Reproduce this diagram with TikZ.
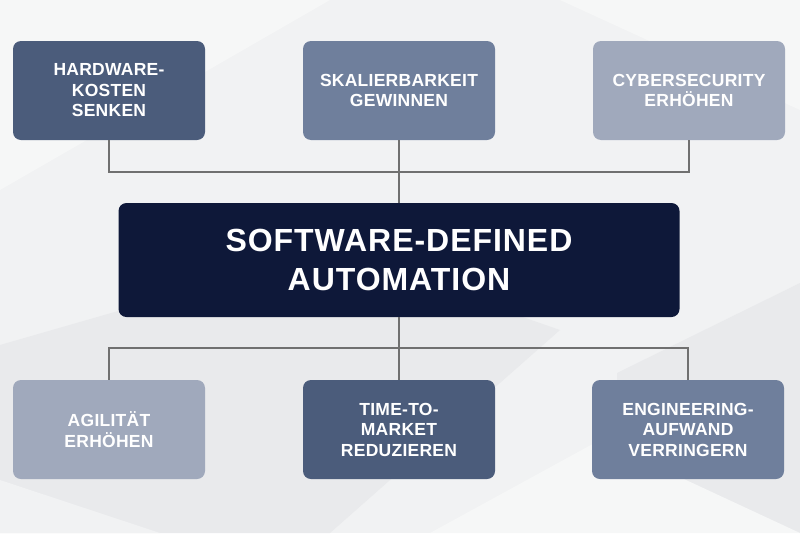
\documentclass[tikz,border=0pt]{standalone}
\usepackage{fontspec}
\setmainfont{Liberation Sans}
\newfontfamily\boxfont[LetterSpace=1.5]{Liberation Sans}
\newfontfamily\titlefont[LetterSpace=3]{Liberation Sans}
\definecolor{bgbase}{HTML}{F1F2F3}
\definecolor{bglight}{HTML}{F6F7F7}
\definecolor{bgdark}{HTML}{E9EAEC}
\definecolor{cdark}{HTML}{4B5C7B}
\definecolor{cmid}{HTML}{6F7F9C}
\definecolor{clight}{HTML}{A0A9BC}
\definecolor{cnavy}{HTML}{0E1839}
\definecolor{cline}{HTML}{707070}
\begin{document}
\begin{tikzpicture}[x=1pt,y=-1pt,
  goalbox/.style={rectangle, rounded corners=8pt, minimum width=192pt, minimum height=99pt,
    inner sep=0pt, text=white, align=center,
    font=\boxfont\bfseries\fontsize{17.5pt}{20.5pt}\selectfont},
  centerbox/.style={rectangle, rounded corners=8pt, fill=cnavy, minimum width=561pt, minimum height=114pt,
    inner sep=0pt, text=white, align=center,
    font=\titlefont\bfseries\fontsize{32pt}{39pt}\selectfont},
  link/.style={draw=cline, line width=1.6pt}]
% background
\fill[bgbase] (0,0) rectangle (800,533);
\useasboundingbox (0,0) rectangle (800,533);
\fill[bglight] (0,0) -- (330,0) -- (0,190) -- cycle;
\fill[bglight] (560,0) -- (800,0) -- (800,110) -- cycle;
\fill[bgdark] (0,345) -- (330,250) -- (560,330) -- (330,533) -- (0,533) -- cycle;
\fill[bgbase] (0,480) -- (160,533) -- (0,533) -- cycle;
\fill[bgdark] (617,373) -- (800,283) -- (800,533) -- (617,496) -- cycle;
\fill[bglight] (430,533) -- (600,440) -- (800,533) -- cycle;
% nodes
\node[goalbox, fill=cdark]  (b1) at (109,90.5) {HARDWARE-\\KOSTEN\\SENKEN};
\node[goalbox, fill=cmid]   (b2) at (399,90.5) {SKALIERBARKEIT\\GEWINNEN};
\node[goalbox, fill=clight] (b3) at (689,90.5) {CYBERSECURITY\\ERHÖHEN};
\node[centerbox] (c) at (399,260) {SOFTWARE-DEFINED\\AUTOMATION};
\node[goalbox, fill=clight] (b4) at (109,429.5) {AGILITÄT\\ERHÖHEN};
\node[goalbox, fill=cdark]  (b5) at (399,429.5) {TIME-TO-\\MARKET\\REDUZIEREN};
\node[goalbox, fill=cmid]   (b6) at (688,429.5) {ENGINEERING-\\AUFWAND\\VERRINGERN};
% connectors
\coordinate (jtop) at (399,172);
\coordinate (jbot) at (399,348);
\draw[link] (b1.south) |- (jtop) -| (b3.south);
\draw[link] (b2.south) -- (c.north);
\draw[link] (c.south) -- (b5.north);
\draw[link] (b4.north) |- (jbot) -| (b6.north);
\end{tikzpicture}
\end{document}
